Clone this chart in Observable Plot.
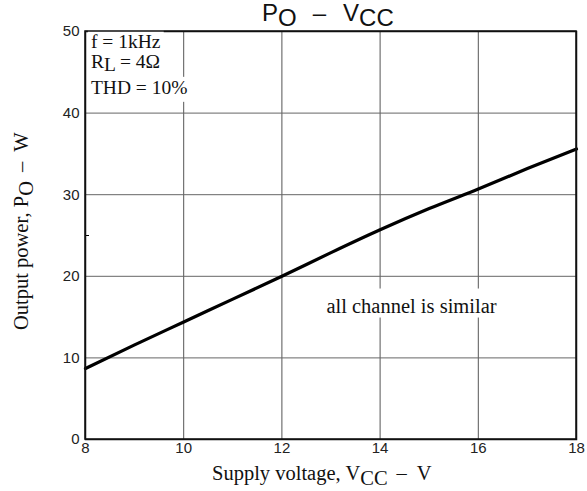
<!DOCTYPE html>
<html>
<head>
<meta charset="utf-8">
<script src="https://cdn.jsdelivr.net/npm/d3@7"></script>
<script src="https://cdn.jsdelivr.net/npm/@observablehq/plot@0.6"></script>
<style>
  html, body { margin: 0; padding: 0; background: #fff; }
  #chart svg { display: block; }
</style>
</head>
<body>
<div id="chart"></div>
<script>
// Data
const vcc = [8, 9, 10, 11, 12, 13, 14, 15, 16, 17, 18];
const po  = [8.7, 11.6, 14.4, 17.2, 20.0, 22.9, 25.7, 28.3, 30.7, 33.2, 35.6];
const xTicks = [8, 10, 12, 14, 16, 18];
const yTicks = [0, 10, 20, 30, 40, 50];
const yMinorTicks = [25];

const curve = vcc.map((v, i) => ({v, p: po[i]}));

const serif = "'Liberation Serif', 'Times New Roman', serif";
const sans = "'Liberation Sans', Arial, sans-serif";

const chart = Plot.plot({
  width: 587,
  height: 491,
  marginLeft: 85,
  marginRight: 11,
  marginTop: 31,
  marginBottom: 52,
  style: {fontFamily: sans, fontSize: "15px", color: "#222", background: "#fff"},
  x: {domain: [8, 18], ticks: xTicks, label: null},
  y: {domain: [0, 50], ticks: yTicks, label: null},
  marks: [
    Plot.gridX(xTicks.slice(1, -1), {stroke: "#555", strokeOpacity: 1, strokeWidth: 1}),
    Plot.gridY(yTicks.slice(1, -1), {stroke: "#666", strokeOpacity: 1, strokeWidth: 1}),
    Plot.axisX(xTicks, {tickSize: 0, tickPadding: 3, fontSize: 15, fill: "#222", label: null}),
    Plot.axisY(yTicks, {tickSize: 0, tickPadding: 6, fontSize: 15, fill: "#222", label: null}),
    Plot.axisY(yMinorTicks, {tickSize: -4, text: null, label: null, stroke: "#000"}),
    Plot.line(curve, {x: "v", y: "p", stroke: "#000", strokeWidth: 3.2, curve: "monotone-x"}),
    Plot.frame({stroke: "#111", strokeWidth: 1.5})
  ]
});
document.getElementById("chart").appendChild(chart);

// Rich text (subscripts) added with d3, positioned through Plot's scales
const svg = d3.select(chart);
const sx = chart.scale("x"), sy = chart.scale("y");
const xs = v => sx.apply(v), ys = v => sy.apply(v);

// parts: [text, shift(+1 down / -1 up / 0), dx]
function rich(g, parts, subShift) {
  parts.forEach(([t, sub, dx]) => {
    const s = g.append("tspan")
      .attr("dy", sub === 1 ? subShift : sub === -1 ? -subShift : 0)
      .text(t);
    if (dx) s.attr("dx", dx);
  });
}

// Title
const title = svg.append("text")
  .attr("x", 262).attr("y", 21)
  .attr("text-anchor", "start")
  .attr("font-family", sans).attr("font-size", 24).attr("fill", "#111");
rich(title, [["P"], ["O", 1], ["\u2013", -1, 16], ["V", 0, 17], ["CC", 1]], 5);

// X axis label
const xl = svg.append("text")
  .attr("x", 212).attr("y", 480)
  .attr("text-anchor", "start")
  .attr("font-family", serif).attr("font-size", 20.5).attr("fill", "#111");
rich(xl, [["Supply voltage, V"], ["CC", 1], ["\u2013", -1, 9], ["V", 0, 10]], 5);

// Y axis label
const yl = svg.append("text")
  .attr("transform", `translate(28,330) rotate(-90)`)
  .attr("text-anchor", "start")
  .attr("font-family", serif).attr("font-size", 20.5).attr("fill", "#111");
rich(yl, [["Output power, P"], ["O", 1], ["\u2013", -1, 9], ["W", 0, 10]], 5);

// Annotations; white boxes behind them make the gaps in the grid
const boxG = svg.append("g"), textG = svg.append("g");
function note(x, y, parts, anchor, pad, size) {
  const t = textG.append("text")
    .attr("x", xs(x)).attr("y", ys(y))
    .attr("text-anchor", anchor)
    .attr("font-family", serif).attr("font-size", size).attr("fill", "#111");
  rich(t, parts, 3.5);
  const b = t.node().getBBox();
  boxG.append("rect")
    .attr("x", b.x - pad[0]).attr("y", b.y - pad[1])
    .attr("width", b.width + 2 * pad[0]).attr("height", b.height + pad[1] + pad[2])
    .attr("fill", "#fff");
}
note(8.12, 47.9, [["f = 1kHz"]], "start", [3, 3, 0], 19.5);
note(8.12, 45.5, [["R"], ["L", 1], [" = 4\u03A9", -1]], "start", [3, 0, 0], 19.5);
note(8.12, 42.3, [["THD = 10%"]], "start", [3, 0, 4], 19.5);
note(14.65, 15.5, [["all channel is similar"]], "middle", [3, 6, 1], 20.5);

// redraw frame on top of boxes
svg.append("rect")
  .attr("x", xs(8)).attr("y", ys(50))
  .attr("width", xs(18) - xs(8)).attr("height", ys(0) - ys(50))
  .attr("fill", "none").attr("stroke", "#111").attr("stroke-width", 1.5);
</script>
</body>
</html>
